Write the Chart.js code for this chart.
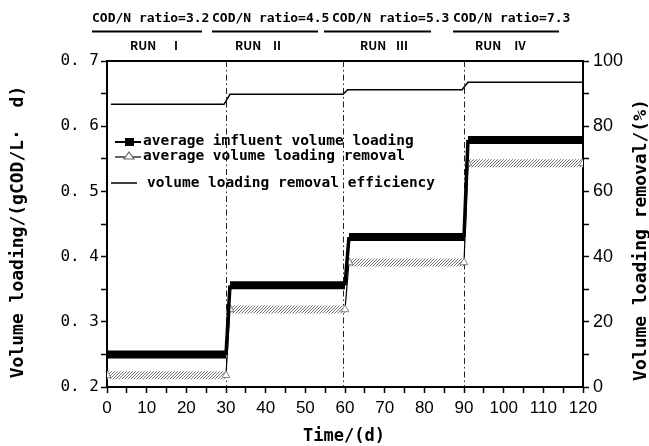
<!DOCTYPE html>
<html lang="en">
<head>
    <meta charset="UTF-8">
    <title>Volume loading by run</title>
    <script src="https://cdn.jsdelivr.net/npm/chart.js"></script>
    <style>
        body { margin: 0; background: #fff; }
        #wrap { width: 649px; height: 446px; position: relative; }
    </style>
</head>
<body>
    <div id="wrap"><canvas id="chart"></canvas></div>

    <script>
        // values
        const days = [0, 30, 31, 60, 61, 90, 91, 120];
        const influentLoading = [0.25, 0.25, 0.356, 0.356, 0.43, 0.43, 0.579, 0.579];
        const removalLoading = [0.218, 0.218, 0.319, 0.319, 0.391, 0.391, 0.543, 0.543];
        const effDays = [1, 29.5, 31, 59.5, 60.7, 89.5, 91, 120];
        const removalEfficiency = [86.7, 86.7, 89.8, 89.8, 91.2, 91.2, 93.5, 93.5];
        const runBounds = [30, 59.6, 90];
        const ratioLabels = ['COD/N ratio=3.2', 'COD/N ratio=4.5', 'COD/N ratio=5.3', 'COD/N ratio=7.3'];
        const runLabels = ['Ⅰ', 'Ⅱ', 'Ⅲ', 'Ⅳ'];
        const legendLabels = ['average imfluent volume loading', 'average volume loading removal', 'volume loading removal efficiency'];

        const MONO = '"DejaVu Sans Mono", monospace';
        const SANS = '"Liberation Sans", Arial, sans-serif';

        // hatch pattern that stands in for the packed triangle markers
        function hatch() {
            const c = document.createElement('canvas');
            c.width = 3; c.height = 3;
            const g = c.getContext('2d');
            g.fillStyle = '#fff';
            g.fillRect(0, 0, 3, 3);
            g.strokeStyle = '#333';
            g.lineWidth = 0.7;
            g.beginPath();
            g.moveTo(-1, 4); g.lineTo(4, -1);
            g.stroke();
            return g.createPattern(c, 'repeat');
        }
        const hatchFill = hatch();

        const flat = ctx => Math.abs(ctx.p0.y - ctx.p1.y) < 0.5;

        const decor = {
            id: 'decor',
            beforeDatasetsDraw(chart) {
                const { ctx, chartArea, scales } = chart;
                ctx.save();
                ctx.strokeStyle = '#222';
                ctx.lineWidth = 1;
                ctx.setLineDash([6, 3, 1.5, 3]);
                runBounds.forEach(d => {
                    const x = Math.round(scales.x.getPixelForValue(d)) + 0.5;
                    ctx.beginPath();
                    ctx.moveTo(x, chartArea.top);
                    ctx.lineTo(x, chartArea.bottom);
                    ctx.stroke();
                });
                ctx.restore();
            },
            afterDraw(chart) {
                const { ctx, chartArea } = chart;
                ctx.save();
                // top frame
                ctx.strokeStyle = '#000';
                ctx.lineWidth = 2;
                ctx.beginPath();
                ctx.moveTo(chartArea.left, chartArea.top);
                ctx.lineTo(chartArea.right, chartArea.top);
                ctx.stroke();

                // run headers
                const textX = [92, 212, 332, 453];
                const lineX = [[92, 202], [212, 318], [324, 431], [453, 559]];
                const runX = [130, 235, 360, 475];
                const numX = [176, 277, 402, 520];
                ctx.fillStyle = '#000';
                ctx.textBaseline = 'middle';
                ctx.textAlign = 'left';
                ratioLabels.forEach((t, i) => {
                    ctx.font = 'bold 13px ' + MONO;
                    ctx.fillText(t, textX[i], 19);
                    ctx.beginPath();
                    ctx.moveTo(lineX[i][0], 31.5);
                    ctx.lineTo(lineX[i][1], 31.5);
                    ctx.stroke();
                    ctx.font = 'bold 12px "Noto Sans CJK SC", sans-serif';
                    ctx.fillText('RUN', runX[i], 45);
                    ctx.textAlign = 'center';
                    ctx.fillText(runLabels[i], numX[i], 45);
                    ctx.textAlign = 'left';
                });

                // legend
                ctx.font = 'bold 14.5px ' + MONO;
                ctx.lineWidth = 2;
                ctx.beginPath(); ctx.moveTo(115, 142); ctx.lineTo(141, 142); ctx.stroke();
                ctx.fillRect(125, 138, 9, 8);
                ctx.fillText(legendLabels[0], 143, 141);

                ctx.lineWidth = 1.2;
                ctx.beginPath(); ctx.moveTo(115, 157); ctx.lineTo(141, 157); ctx.stroke();
                ctx.fillStyle = '#fff';
                ctx.strokeStyle = '#666';
                ctx.beginPath();
                ctx.moveTo(129, 152); ctx.lineTo(134, 159); ctx.lineTo(124, 159); ctx.closePath();
                ctx.fill(); ctx.stroke();
                ctx.fillStyle = '#000';
                ctx.strokeStyle = '#000';
                ctx.fillText(legendLabels[1], 143, 156);

                ctx.lineWidth = 1.5;
                ctx.beginPath(); ctx.moveTo(111, 183); ctx.lineTo(137, 183); ctx.stroke();
                ctx.fillText(legendLabels[2], 147, 183);

                // axis titles
                ctx.font = 'bold 17px ' + MONO;
                ctx.textAlign = 'center';
                ctx.fillText('Time/(d)', 344, 437);
                ctx.font = 'bold 18px ' + MONO;
                ctx.save();
                ctx.translate(18, 232);
                ctx.rotate(-Math.PI / 2);
                ctx.fillText('Volume loading/(gCOD/L·  d)', 0, 0);
                ctx.restore();
                ctx.save();
                ctx.translate(641, 240);
                ctx.rotate(-Math.PI / 2);
                ctx.fillText('Volume loading removal/(%)', 0, 0);
                ctx.restore();
                ctx.restore();
            }
        };

        const tickGrid = {
            drawOnChartArea: false,
            drawTicks: true,
            tickLength: 6,
            tickColor: '#000',
            tickWidth: 1.5
        };
        const axisBorder = { color: '#000', width: 2 };

        new Chart(document.getElementById('chart'), {
            type: 'line',
            data: {
                datasets: [
                    {
                        label: legendLabels[0],
                        data: days.map((d, i) => ({ x: d, y: influentLoading[i] })),
                        yAxisID: 'y',
                        borderColor: '#000',
                        borderWidth: 3.5,
                        pointRadius: 0,
                        segment: {
                            borderWidth: ctx => flat(ctx) ? 8 : 3.5
                        }
                    },
                    {
                        label: legendLabels[1],
                        data: days.map((d, i) => ({ x: d, y: removalLoading[i] })),
                        yAxisID: 'y',
                        borderColor: '#000',
                        borderWidth: 1.2,
                        pointStyle: 'triangle',
                        pointRadius: 4.5,
                        pointBackgroundColor: '#fff',
                        pointBorderColor: '#888',
                        pointBorderWidth: 1,
                        segment: {
                            borderWidth: ctx => flat(ctx) ? 8 : 1.2,
                            borderColor: ctx => flat(ctx) ? hatchFill : '#000'
                        }
                    },
                    {
                        label: legendLabels[2],
                        data: effDays.map((d, i) => ({ x: d, y: removalEfficiency[i] })),
                        yAxisID: 'y1',
                        borderColor: '#000',
                        borderWidth: 1.5,
                        pointRadius: 0
                    }
                ]
            },
            options: {
                responsive: true,
                maintainAspectRatio: false,
                animation: false,
                layout: { padding: { top: 61, left: 0, right: 0, bottom: 0 } },
                plugins: { legend: { display: false }, tooltip: { enabled: false } },
                scales: {
                    x: {
                        type: 'linear',
                        min: 0,
                        max: 120,
                        grid: tickGrid,
                        border: axisBorder,
                        ticks: {
                            stepSize: 5,
                            autoSkip: false,
                            maxRotation: 0,
                            color: '#000',
                            padding: 5,
                            font: { family: SANS, size: 17 },
                            callback: v => v % 10 === 0 ? String(v) : ''
                        },
                        afterFit: s => { s.height = 59; }
                    },
                    y: {
                        position: 'left',
                        min: 0.2,
                        max: 0.7,
                        grid: tickGrid,
                        border: axisBorder,
                        ticks: {
                            stepSize: 0.05,
                            autoSkip: false,
                            color: '#000',
                            padding: 2,
                            font: { family: MONO, size: 16 },
                            callback: v => Math.round(v * 100) % 10 === 0 ? v.toFixed(1).replace('.', '. ') : ''
                        },
                        afterFit: s => { s.width = 107; }
                    },
                    y1: {
                        position: 'right',
                        min: 0,
                        max: 100,
                        grid: tickGrid,
                        border: axisBorder,
                        ticks: {
                            stepSize: 10,
                            autoSkip: false,
                            color: '#000',
                            padding: 4,
                            font: { family: SANS, size: 18 },
                            callback: v => v % 20 === 0 ? String(v) : ''
                        },
                        afterFit: s => { s.width = 66; }
                    }
                }
            },
            plugins: [decor]
        });
    </script>
</body>
</html>
